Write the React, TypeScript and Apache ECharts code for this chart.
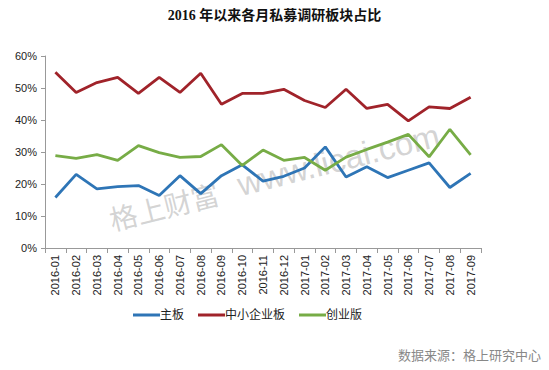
import React, { useEffect, useRef } from "react";
import * as echarts from "echarts";

const categories = [
  "2016-01", "2016-02", "2016-03", "2016-04", "2016-05", "2016-06", "2016-07",
  "2016-08", "2016-09", "2016-10", "2016-11", "2016-12", "2017-01", "2017-02",
  "2017-03", "2017-04", "2017-05", "2017-06", "2017-07", "2017-08", "2017-09",
];
const mainBoard = [15.8, 23.0, 18.5, 19.2, 19.5, 16.4, 22.6, 17.0, 22.6, 26.0, 20.9, 22.4, 25.0, 31.6, 22.2, 25.4, 22.0, 24.3, 26.6, 18.9, 23.3];
const smeBoard = [54.9, 48.6, 51.7, 53.3, 48.3, 53.3, 48.6, 54.6, 44.9, 48.3, 48.3, 49.6, 46.1, 43.9, 49.6, 43.6, 44.9, 39.7, 44.1, 43.6, 47.1];
const gemBoard = [28.9, 28.0, 29.2, 27.4, 32.0, 29.8, 28.3, 28.6, 32.3, 25.8, 30.6, 27.4, 28.3, 24.3, 28.4, 30.8, 33.1, 35.5, 28.5, 37.1, 29.1];
const seriesNames = ["主板", "中小企业板", "创业版"];
const colors = ["#2E75B6", "#A0232A", "#77AC46"];

const cjk = "'Liberation Sans', 'Noto Sans CJK SC', sans-serif";

export default function App() {
  const ref = useRef<HTMLDivElement>(null);
  useEffect(() => {
    if (!ref.current) return;
    const chart = echarts.init(ref.current, undefined, { renderer: "svg" });
    const mk = (name: string, data: number[], color: string) => ({
      name,
      type: "line",
      data,
      symbol: "none",
      z: 5,
      lineStyle: { color, width: 2.8 },
      itemStyle: { color },
    });
    const wmRot = 0.245;
    chart.setOption({
      animation: false,
      backgroundColor: "#ffffff",
      title: {
        text: "2016 年以来各月私募调研板块占比",
        left: "center",
        top: 3,
        textStyle: {
          fontSize: 14,
          fontWeight: "bold",
          color: "#111",
          fontFamily: "'Liberation Serif', 'Noto Sans CJK SC', serif",
        },
      },
      grid: { left: 45, right: 68, top: 56, bottom: 122, containLabel: false },
      legend: {
        bottom: 44,
        left: 128,
        itemWidth: 27,
        itemHeight: 3,
        itemGap: 14,
        icon: "rect",
        textStyle: { fontSize: 12, color: "#222", fontFamily: cjk, padding: [0, 0, 0, -5] },
        data: seriesNames,
      },
      xAxis: {
        type: "category",
        data: categories,
        boundaryGap: true,
        axisLine: { lineStyle: { color: "#999" } },
        axisTick: { show: true, alignWithLabel: false, length: 5, lineStyle: { color: "#999" } },
        axisLabel: {
          rotate: 90,
          interval: 0,
          fontSize: 11,
          color: "#222",
          margin: 7,
          fontFamily: "'Liberation Sans', sans-serif",
        },
      },
      yAxis: {
        type: "value",
        min: 0,
        max: 60,
        interval: 10,
        splitLine: { show: false },
        axisLine: { show: true, lineStyle: { color: "#999" } },
        axisTick: { show: true, length: 4, lineStyle: { color: "#999" } },
        axisLabel: {
          formatter: "{value}%",
          fontSize: 11,
          color: "#222",
          margin: 8,
          fontFamily: "'Liberation Sans', sans-serif",
        },
      },
      graphic: {
        z: 0,
        elements: [
          {
            type: "text",
            x: 113,
            y: 233,
            rotation: wmRot,
            originX: 0,
            originY: 0,
            style: {
              text: "格上财富",
              fontSize: 28,
              fill: "rgba(175,175,175,0.55)",
              fontFamily: "'Noto Sans CJK SC', sans-serif",
              textVerticalAlign: "bottom",
            },
          },
          {
            type: "text",
            x: 242,
            y: 201,
            rotation: wmRot,
            originX: 0,
            originY: 0,
            style: {
              text: "www.licai.com",
              fontSize: 33,
              fill: "rgba(175,175,175,0.55)",
              fontFamily: "'Liberation Sans', sans-serif",
              textVerticalAlign: "bottom",
            },
          },
          {
            type: "text",
            right: 8,
            bottom: 8,
            style: {
              text: "数据来源：格上研究中心",
              fontSize: 13,
              fill: "#888",
              fontFamily: cjk,
            },
          },
        ],
      },
      series: [
        mk(seriesNames[0], mainBoard, colors[0]),
        mk(seriesNames[1], smeBoard, colors[1]),
        mk(seriesNames[2], gemBoard, colors[2]),
      ],
    });
    return () => chart.dispose();
  }, []);
  return <div ref={ref} style={{ width: 549, height: 370, position: "absolute", left: 0, top: 0 }} />;
}
